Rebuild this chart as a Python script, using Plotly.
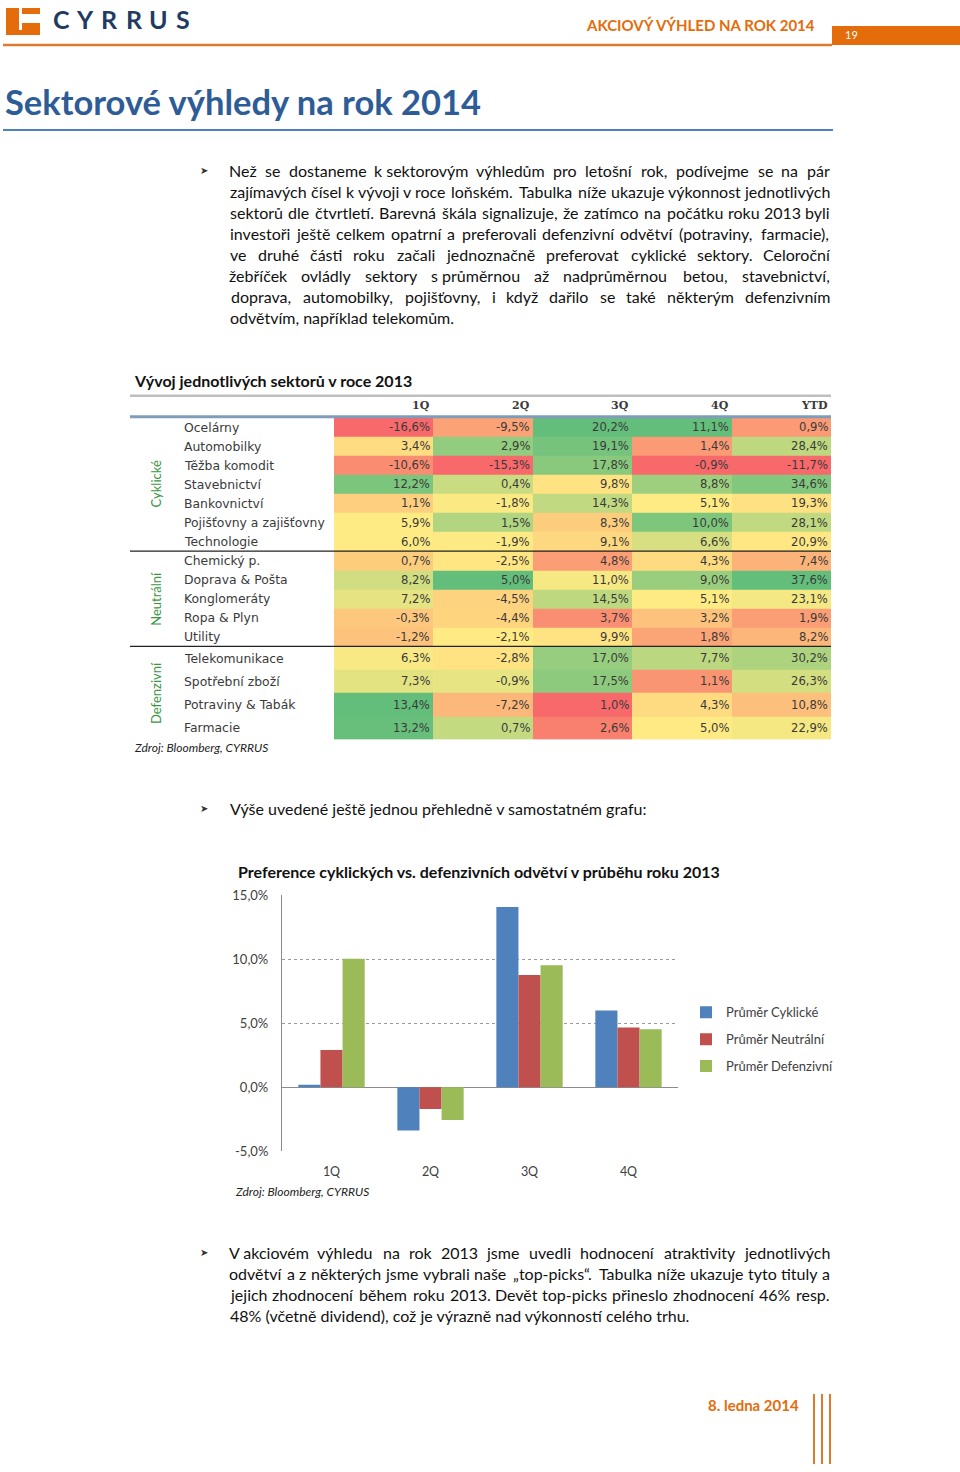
import numpy as np
import plotly.graph_objects as go

W, H = 960, 1472
# measured page placement in the photographed window (vertical offset / scale)
TOP_OFF, VSCALE = 8.0, 1457.0 / 1472.0
def px(x): return x / W
def py(y): return 1 - ((y - TOP_OFF) / VSCALE) / H

NB = "\u00a0"
# ---------------- data ----------------
sectors = ["Ocelárny", "Automobilky", "Těžba komodit", "Stavebnictví", "Bankovnictví",
           "Pojišťovny a zajišťovny", "Technologie", "Chemický p.", "Doprava & Pošta",
           "Konglomeráty", "Ropa & Plyn", "Utility", "Telekomunikace", "Spotřební zboží",
           "Potraviny & Tabák", "Farmacie"]
groups = ["Cyklické", "Neutrální", "Defenzivní"]
group_sizes = [7, 5, 4]
periods = ["1Q", "2Q", "3Q", "4Q", "YTD"]
q1 = [-16.6, 3.4, -10.6, 12.2, 1.1, 5.9, 6.0, 0.7, 8.2, 7.2, -0.3, -1.2, 6.3, 7.3, 13.4, 13.2]
q2 = [-9.5, 2.9, -15.3, 0.4, -1.8, 1.5, -1.9, -2.5, 5.0, -4.5, -4.4, -2.1, -2.8, -0.9, -7.2, 0.7]
q3 = [20.2, 19.1, 17.8, 9.8, 14.3, 8.3, 9.1, 4.8, 11.0, 14.5, 3.7, 9.9, 17.0, 17.5, 1.0, 2.6]
q4 = [11.1, 1.4, -0.9, 8.8, 5.1, 10.0, 6.6, 4.3, 9.0, 5.1, 3.2, 1.8, 7.7, 1.1, 4.3, 5.0]
ytd = [0.9, 28.4, -11.7, 34.6, 19.3, 28.1, 20.9, 7.4, 37.6, 23.1, 1.9, 8.2, 30.2, 26.3, 10.8, 22.9]

quarters = ["1Q", "2Q", "3Q", "4Q"]
series_names = ["Průměr Cyklické", "Průměr Neutrální", "Průměr Defenzivní"]
avg_cyclic = [0.20, -3.39, 14.09, 6.01]
avg_neutral = [2.92, -1.70, 8.78, 4.68]
avg_defensive = [10.05, -2.55, 9.53, 4.53]
y_ticks = [-5, 0, 5, 10, 15]
y_ticklabels = ["-5,0%", "0,0%", "5,0%", "10,0%", "15,0%"]

para1 = [
    "Než se dostaneme k" + NB + "sektorovým výhledům pro letošní rok, podívejme se na pár",
    "zajímavých čísel k vývoji v roce loňském. Tabulka níže ukazuje výkonnost jednotlivých",
    "sektorů dle čtvrtletí. Barevná škála signalizuje, že zatímco na počátku roku 2013 byli",
    "investoři ještě celkem opatrní a preferovali defenzivní odvětví (potraviny, farmacie),",
    "ve druhé části roku začali jednoznačně preferovat cyklické sektory. Celoroční",
    "žebříček ovládly sektory s" + NB + "průměrnou až nadprůměrnou betou, stavebnictví,",
    "doprava, automobilky, pojišťovny, i když dařilo se také některým defenzivním",
    "odvětvím, například telekomům.",
]
para2 = ["Výše uvedené ještě jednou přehledně v samostatném grafu:"]
para3 = [
    "V" + NB + "akciovém výhledu na rok 2013 jsme uvedli hodnocení atraktivity jednotlivých",
    "odvětví a z některých jsme vybrali naše „top-picks“. Tabulka níže ukazuje tyto tituly a",
    "jejich zhodnocení během roku 2013. Devět top-picks přineslo zhodnocení 46% resp.",
    "48% (včetně dividend), což je výrazně nad výkonností celého trhu.",
]

# ---------------- colours / fonts ----------------
ORANGE = "#E46C0A"
NAVY = "#1F3B64"
TXT = "Lato"
TAB = "DejaVu Sans"
BAR_COLORS = ["#4F81BD", "#C0504D", "#9BBB59"]

# rough glyph advance table (em) used only to spread justified lines
_W = {" ": .226, NB: .12, ",": .25, ".": .252, "-": .306, "(": .303, ")": .303, ":": .268,
      "%": .715, "„": .4, "“": .4}
_W.update({d: .507 for d in "0123456789"})
_W.update(dict(zip("abcdefghijklmnopqrstuvwxyz",
                   [.479, .525, .423, .525, .498, .305, .471, .525, .229, .239, .455, .229, .799,
                    .525, .527, .525, .525, .349, .391, .335, .525, .452, .715, .433, .453, .395])))
_W.update(dict(zip("ABCDEFGHIJKLMNOPQRSTUVWXYZ",
                   [.579, .544, .533, .615, .488, .459, .631, .623, .252, .319, .52, .42, .855,
                    .646, .662, .517, .673, .543, .459, .487, .642, .567, .89, .519, .487, .468])))
_ACC = dict(zip("áčďéěíňóřšťúůýžÁČĎÉĚÍŇÓŘŠŤÚŮÝŽ", "acdeeinorstuuyzACDEEINORSTUUYZ"))
def em_width(s):
    return sum(_W.get(_ACC.get(c, c), .5) for c in s)
P_SIZE = 16
K = 557.0 / (em_width(para1[1]) * 15)   # calibration of the table to the rendered face

fig = go.Figure()

# ---------------- heatmap table ----------------
cols = [q1, q2, q3, q4, ytd]

def excel_scale(vals):
    v = np.array(vals, dtype=float)
    lo, hi, mid = v.min(), v.max(), np.percentile(v, 50)
    return np.where(v <= mid, 0.5 * (v - lo) / (mid - lo), 0.5 + 0.5 * (v - mid) / (hi - mid))

Z = np.column_stack([excel_scale(c) for c in cols])
row_h = []
for g, n in enumerate(group_sizes):
    row_h += [1.22 if g == 2 else 1.0] * n
y_edges = np.concatenate([[0], np.cumsum(row_h)])
y_cent = (y_edges[:-1] + y_edges[1:]) / 2

fig.add_trace(go.Heatmap(
    z=Z, x=np.arange(len(periods) + 1), y=y_edges,
    colorscale=[[0, "#F8696B"], [0.5, "#FFEB84"], [1, "#63BE7B"]],
    zmin=0, zmax=1, showscale=False, hoverinfo="skip", xaxis="x", yaxis="y"))

ann = []
def A(**kw):
    kw.setdefault("showarrow", False)
    kw.setdefault("xanchor", "center")
    kw.setdefault("yanchor", "middle")
    kw.setdefault("xref", "paper")
    kw.setdefault("yref", "paper")
    ann.append(kw)

for j, c in enumerate(cols):
    for i, v in enumerate(c):
        A(x=j + 1, y=y_cent[i], xref="x", yref="y", xanchor="right", xshift=-1,
          text=f"{v:.1f}".replace(".", ",") + "%",
          font=dict(family=TAB, size=11.6, color="#3A3A3A"))
    A(x=j + 1, y=py(406), xref="x", xanchor="right", xshift=-1,
      text=f"<b>{periods[j]}</b>", font=dict(family="DejaVu Serif", size=11, color="#3A3A3A"))
for i, s in enumerate(sectors):
    A(x=px(182), y=y_cent[i], yref="y", xanchor="left", text=s,
      font=dict(family=TAB, size=12.4, color="#3A3A3A"))
start = 0
for g, n in zip(groups, group_sizes):
    A(x=px(156), y=(y_edges[start] + y_edges[start + n]) / 2, yref="y", text=g, textangle=-90,
      font=dict(family=TXT, size=13, color="#3A9647"))
    start += n

shapes = []
def hline(x0, x1, y, color, w, yref="paper"):
    yy = y if yref != "paper" else py(y)
    shapes.append(dict(type="line", xref="paper", yref=yref, x0=px(x0), x1=px(x1),
                       y0=yy, y1=yy, line=dict(color=color, width=w)))
def rect(x0, y0, x1, y1, color):
    shapes.append(dict(type="rect", xref="paper", yref="paper", x0=px(x0), x1=px(x1),
                       y0=py(y1), y1=min(1.0, py(y0)), fillcolor=color, line=dict(width=0)))

hline(130, 831, 396, "#BFBFBF", 2.5)
hline(130, 831, 417, "#7F9DBB", 3)
start = 0
for n in group_sizes[:-1]:
    start += n
    hline(130, 831, y_edges[start], "#222222", 1.2, yref="y")

# ---------------- bar chart ----------------
for name, vals, col in zip(series_names, [avg_cyclic, avg_neutral, avg_defensive], BAR_COLORS):
    fig.add_trace(go.Bar(x=quarters, y=vals, name=name, marker=dict(color=col, line=dict(width=0)),
                         xaxis="x3", yaxis="y3", legendgroup=name, hoverinfo="skip"))

# ---------------- header / page decoration ----------------
rect(6, 2, 40, 35, ORANGE)
rect(20, 14, 40, 23, "white")
rect(19, 8, 22, 30, "white")
for k, ch in enumerate("CYRRUS"):
    A(x=px(61 + k * 24.4), y=py(19), text=f"<b>{ch}</b>",
      font=dict(family=TXT, size=25, color=NAVY))
A(x=px(817), y=py(25), xanchor="right", text="<b>AKCIOVÝ VÝHLED NA ROK 2014</b>",
  font=dict(family=TXT, size=15, color=ORANGE))
hline(3, 832, 45, "#E07B2E", 2.5)
rect(832, 26, 960, 45, ORANGE)
A(x=px(851), y=py(35), text="19", font=dict(family=TXT, size=11, color="white"))
A(x=px(3), y=py(102), xanchor="left", text="<b>Sektorové výhledy na rok 2014</b>",
  font=dict(family=TXT, size=34.5, color="#2E5C96"))
hline(3, 833, 130, "#4F81BD", 2)

def para(lines, y0, bullet=True):
    if bullet:
        A(x=px(204), y=py(y0), text="➤", font=dict(family="DejaVu Sans", size=10, color="#333"))
    f = dict(family=TXT, size=P_SIZE, color="#111111")
    for k, t in enumerate(lines):
        y = py(y0 + 21 * k)
        words = t.split(" ")
        widths = [em_width(w) * P_SIZE * K for w in words]
        slack = 600 - sum(widths) - em_width(" ") * P_SIZE * K * (len(words) - 1)
        last = k == len(lines) - 1
        if last or slack < 3 or len(words) < 2:
            A(x=px(228), y=y, xanchor="left", text=t, font=f)
        else:
            gap = (600 - sum(widths)) / (len(words) - 1)
            x = 230.0
            for w, wd in zip(words, widths):
                A(x=px(x + wd / 2), y=y, text=w, font=f)
                x += wd + gap

para(para1, 171)
para(para2, 809)
para(para3, 1253)

A(x=px(132), y=py(381), xanchor="left", text="<b>Vývoj jednotlivých sektorů v roce 2013</b>",
  font=dict(family=TXT, size=16, color="#111111"))
A(x=px(132), y=py(748), xanchor="left", text="<i>Zdroj: Bloomberg, CYRRUS</i>",
  font=dict(family=TXT, size=12, color="#222222"))
A(x=px(236), y=py(872), xanchor="left",
  text="<b>Preference cyklických vs. defenzivních odvětví v průběhu roku 2013</b>",
  font=dict(family=TXT, size=16, color="#111111"))
A(x=px(233), y=py(1192), xanchor="left", text="<i>Zdroj: Bloomberg, CYRRUS</i>",
  font=dict(family=TXT, size=12, color="#222222"))

A(x=px(801), y=py(1406), xanchor="right", text="<b>8. ledna 2014</b>",
  font=dict(family=TXT, size=15, color=ORANGE))
for x in (814, 822, 830):
    shapes.append(dict(type="line", xref="paper", yref="paper", x0=px(x), x1=px(x),
                       y0=0, y1=py(1395), line=dict(color="#E07B2E", width=2)))

fig.update_layout(
    width=W, height=H, autosize=False,
    margin=dict(l=0, r=0, t=0, b=0, pad=0),
    paper_bgcolor="white", plot_bgcolor="rgba(0,0,0,0)",
    font=dict(family=TXT, color="#404040"),
    barmode="group", bargap=0.33, bargroupgap=0,
    xaxis=dict(domain=[px(334), px(831)], range=[0, len(periods)], visible=False, fixedrange=True),
    yaxis=dict(domain=[py(740), py(418)], range=[y_edges[-1], 0], visible=False, fixedrange=True),
    xaxis3=dict(domain=[px(282), px(678)], anchor="y3", range=[-0.5, 3.5], showgrid=False,
                showline=False, zeroline=False, ticks="", ticklabelstandoff=11,
                tickfont=dict(family=TXT, size=12.5, color="#404040")),
    yaxis3=dict(domain=[py(1152), py(896)], anchor="x3", range=[-5, 15],
                tickvals=y_ticks, ticktext=y_ticklabels, showgrid=True, gridcolor="#9A9A9A",
                griddash="dot", gridwidth=1, zeroline=True, zerolinecolor="#8C8C8C",
                zerolinewidth=1.2, showline=True, linecolor="#8C8C8C", linewidth=1.2,
                ticks="", ticklabelstandoff=10,
                tickfont=dict(family=TXT, size=13, color="#404040")),
    xaxis4=dict(overlaying="x3", anchor="free", position=py(1088), domain=[px(282), px(678)],
                range=[-0.5, 3.5], tickvals=[-0.5, 0.5, 1.5, 2.5, 3.5], ticks="outside",
                ticklen=5, tickcolor="#8C8C8C", showticklabels=False, showline=False,
                showgrid=False, zeroline=False),
    showlegend=True,
    legend=dict(x=px(686), y=py(998), xanchor="left", yanchor="top", tracegroupgap=7,
                font=dict(family=TXT, size=13, color="#404040"), bgcolor="rgba(0,0,0,0)"),
    annotations=ann, shapes=shapes,
)

fig.write_html("out.html", config={"displayModeBar": False},
               post_script="document.body.style.margin='0';")
